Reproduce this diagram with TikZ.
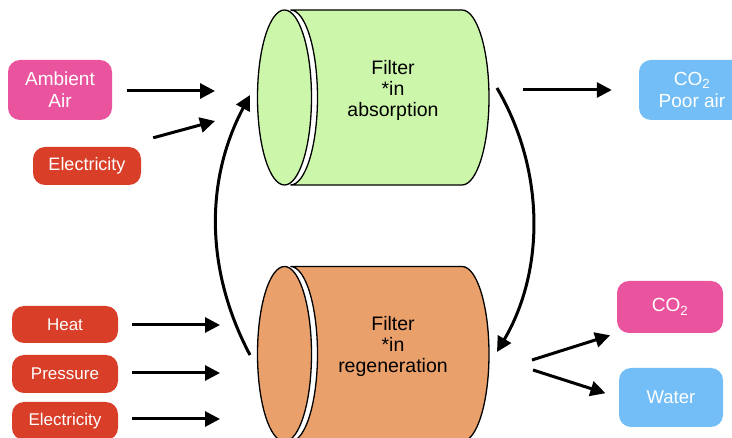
\documentclass[tikz,border=0pt]{standalone}
\usepackage{fontspec}
\setmainfont{Liberation Sans}
\usetikzlibrary{arrows.meta}
\definecolor{pinkbox}{RGB}{234,84,158}
\definecolor{redbox}{RGB}{216,62,40}
\definecolor{bluebox}{RGB}{115,190,246}
\definecolor{greenfill}{RGB}{204,247,170}
\definecolor{orangefill}{RGB}{234,160,106}
\tikzset{
  box/.style={rounded corners=12pt, text=white, align=center, inner sep=0pt,
    font=\fontsize{19}{22}\selectfont},
  small/.style={font=\fontsize{17}{20}\selectfont},
  flow/.style={line width=3pt, -{Triangle[length=15pt,width=15pt]}},
  cyl/.style={line width=1.3pt},
  lbl/.style={align=center, font=\fontsize{19.5}{21}\selectfont}
}
% draws a filter cylinder: #1 = vertical centre, #2 = fill colour
\newcommand{\filtercyl}[2]{%
  \filldraw[cyl, fill=#2] (290.5,#1-87.5) -- (462,#1-87.5)
    arc[start angle=-90, end angle=90, x radius=27, y radius=87.5]
    -- (290.5,#1+87.5)
    arc[start angle=90, end angle=-90, x radius=27, y radius=87.5] -- cycle;
  \filldraw[cyl, fill=#2] (284.5,#1) ellipse[x radius=27, y radius=87.5];
}
\begin{document}
\begin{tikzpicture}[x=1pt, y=-1pt]
\clip (0,0) rectangle (732,438);
\fill[white] (0,0) rectangle (732,438);

% filters
\filtercyl{97.5}{greenfill}
\filtercyl{354}{orangefill}
\node[lbl] (absorb) at (393,90) {Filter\\*in\\absorption};
\node[lbl] (regen) at (393,346) {Filter\\*in\\regeneration};

% inputs and outputs
\node[box, fill=pinkbox, minimum width=104pt, minimum height=60pt] (air) at (60,90) {Ambient\\Air};
\node[box, fill=redbox, minimum width=108pt, minimum height=38pt, font=\fontsize{18}{21}\selectfont] (elec1) at (87,166) {Electricity};
\node[box, fill=bluebox, minimum width=106pt, minimum height=60pt] (poor) at (692,90) {CO\textsubscript{2}\\Poor air};
\node[box, fill=pinkbox, minimum width=106pt, minimum height=52pt] (co2) at (670,307) {CO\textsubscript{2}};
\node[box, fill=bluebox, minimum width=104pt, minimum height=59pt, font=\fontsize{18.5}{21}\selectfont] (water) at (671,397.5) {Water};
\node[box, small, fill=redbox, minimum width=106pt, minimum height=37pt] (heat) at (65,324.5) {Heat};
\node[box, small, fill=redbox, minimum width=106pt, minimum height=38pt] (press) at (65,374) {Pressure};
\node[box, small, fill=redbox, minimum width=106pt, minimum height=38pt] (elec2) at (65,421) {Electricity};

% connector end points at the filters
\coordinate (aIn1) at (215,91);
\coordinate (aIn2) at (215,121);
\coordinate (aOut) at (523,90);
\coordinate (aTop) at (250,95);
\coordinate (aRight) at (497,88);
\coordinate (rBot) at (250,355);
\coordinate (rRight) at (497,352);
\coordinate (rIn1) at (220,325);
\coordinate (rIn2) at (220,373);
\coordinate (rIn3) at (220,419);
\coordinate (rOut1) at (532,360);
\coordinate (rOut2) at (533,370);

% flows
\draw[flow, shorten <=15pt] (air.east |- aIn1) -- (aIn1);
\draw[flow] ([shift={(12,-9)}]elec1.north east) -- (aIn2);
\draw[flow, shorten >=27pt] (aOut) -- (poor.west |- aOut);
\draw[flow] (aRight) .. controls (545,170) and (545,270) .. (rRight);
\draw[flow] (rBot) .. controls (205,270) and (205,180) .. (aTop);
\draw[flow, shorten <=14pt] (heat.east |- rIn1) -- (rIn1);
\draw[flow, shorten <=14pt] (press.east |- rIn2) -- (rIn2);
\draw[flow, shorten <=14pt] (elec2.east |- rIn3) -- (rIn3);
\draw[flow, shorten >=7pt] (rOut1) -- (co2.south west);
\draw[flow, shorten >=14pt] (rOut2) -- (water.west);
\end{tikzpicture}
\end{document}
